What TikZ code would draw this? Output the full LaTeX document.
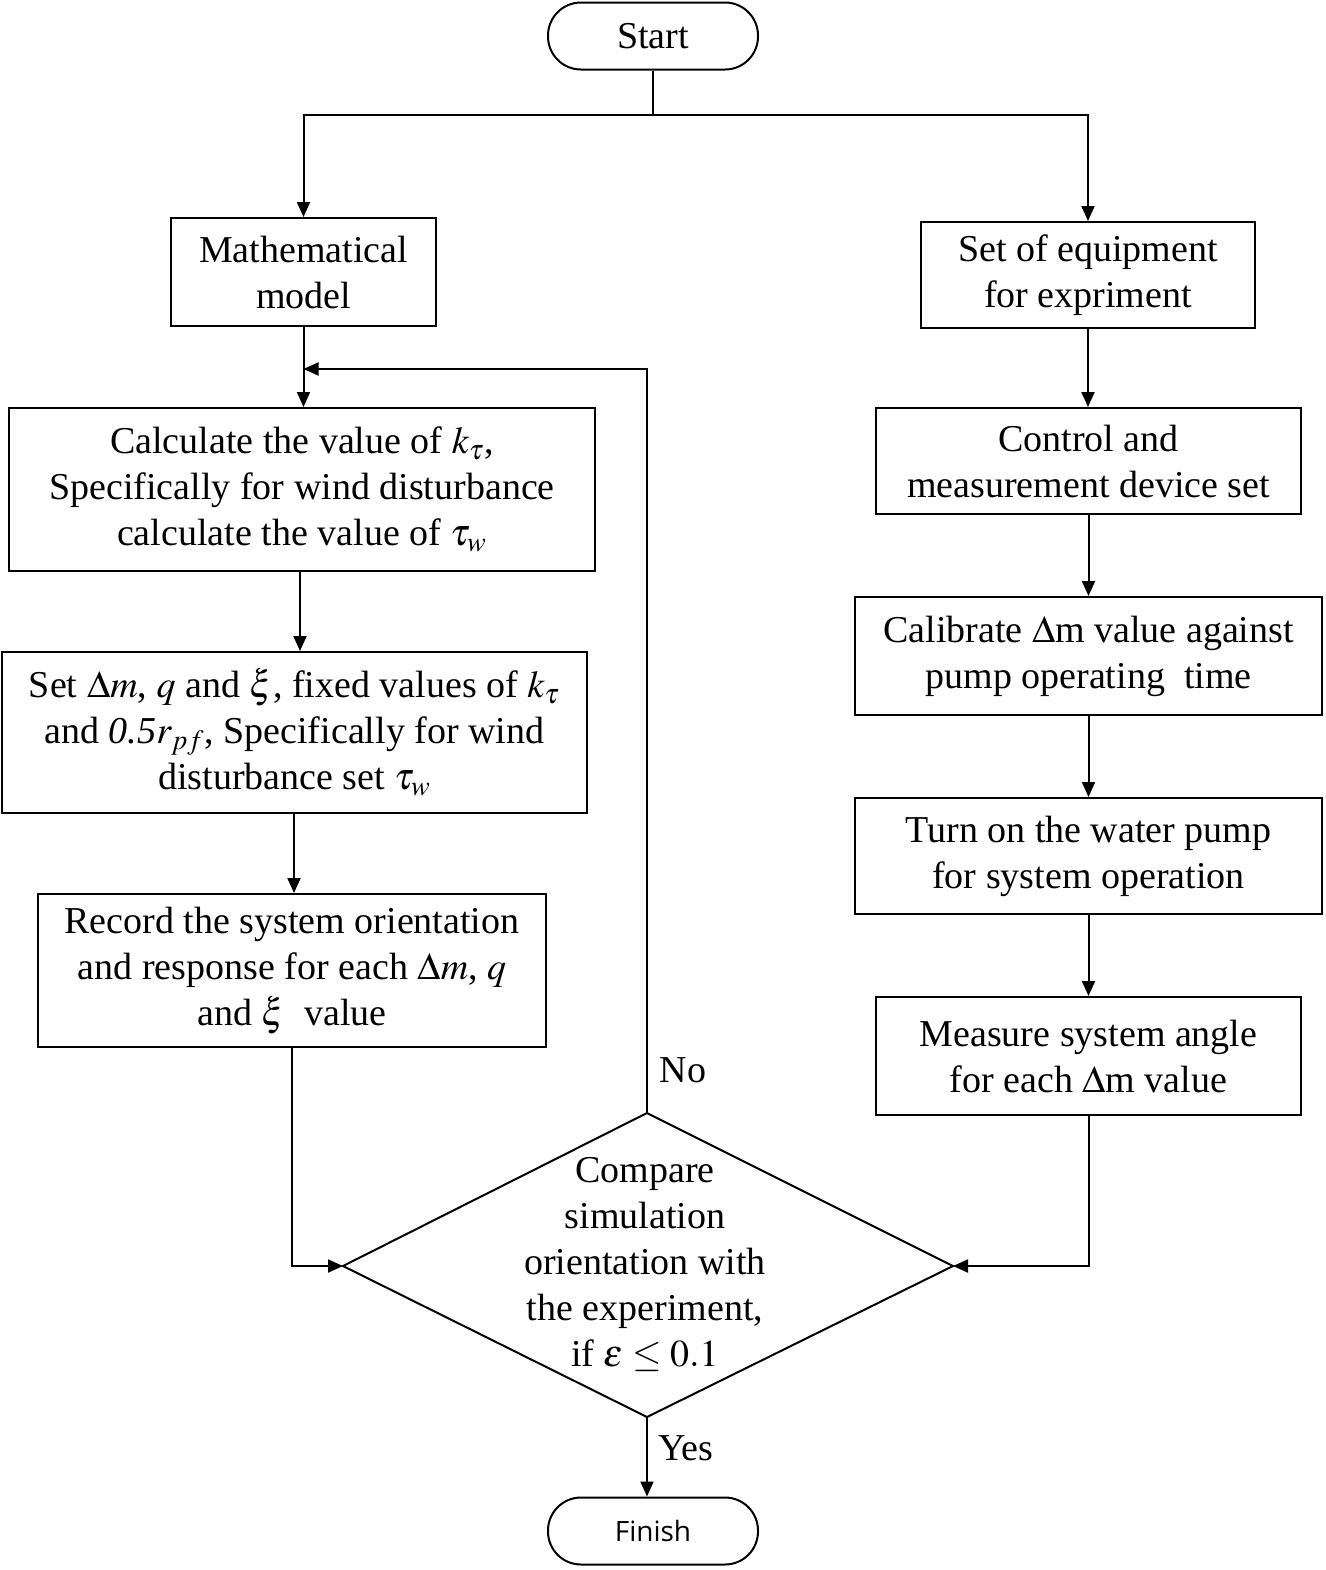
\documentclass[tikz,border=0pt]{standalone}
\usepackage{mathptmx}
\usepackage{fontspec}
\setmainfont{Liberation Serif}
\newfontfamily\finishfont{Open Sans}
\usetikzlibrary{arrows.meta}
\begin{document}
\begin{tikzpicture}[x=0.5pt,y=-0.5pt,
  txt/.style={font=\fontsize{19}{23}\selectfont},
  box/.style={draw, line width=1pt, align=center, inner sep=0pt, txt},
  term/.style={draw, line width=1pt, rounded corners=16.5pt, minimum width=105pt, minimum height=33.5pt, inner sep=0pt},
  arr/.style={line width=1pt, -{Triangle[length=7.5pt,width=6.5pt]}},
  ln/.style={line width=1pt}]
\useasboundingbox (0,0) rectangle (1326,1570);
% terminals
\node[term, txt] (start) at (653,36) {Start};
\node[term, font=\finishfont\fontsize{14}{16}\selectfont] (fin) at (653,1531) {Finish};
% left column
\node[box, minimum width=132.5pt, minimum height=54pt] (math) at (303.5,272) {Mathematical\\model};
\node[box, minimum width=293pt, minimum height=81.5pt] (calc) at (302,489.5) {Calculate the value of $k_\tau$,\\Specifically for wind disturbance\\calculate the value of $\tau_w$};
\node[box, minimum width=292.5pt, minimum height=80.5pt] (set) at (294.5,732.5) {Set $\Delta m$, $q$ and $\xi$, fixed values of $k_\tau$\\and \textit{0.5}$r_{pf}$, Specifically for wind\\disturbance set $\tau_w$};
\node[box, minimum width=254pt, minimum height=76.5pt] (rec) at (292,970.5) {Record the system orientation\\and response for each $\Delta m$, $q$\\and $\xi$~ value};
% right column
\node[box, minimum width=167pt, minimum height=53pt] (equip) at (1088,275) {Set of equipment\\for expriment};
\node[box, minimum width=212.5pt, minimum height=53pt] (ctrl) at (1088.5,461) {Control and\\measurement device set};
\node[box, minimum width=233.5pt, minimum height=59pt] (calib) at (1088.5,656) {Calibrate $\Delta$m value against\\pump operating ~time};
\node[box, minimum width=233.5pt, minimum height=58pt] (turn) at (1088.5,856) {Turn on the water pump\\for system operation};
\node[box, minimum width=212.5pt, minimum height=59pt] (meas) at (1088.5,1056) {Measure system angle\\for each $\Delta$m value};
% decision diamond
\coordinate (dT) at (647,1113);
\coordinate (dB) at (647,1417);
\coordinate (dL) at (343,1266);
\coordinate (dR) at (953,1266);
\draw[ln] (dT) -- (dR) -- (dB) -- (dL) -- cycle;
\node[txt, align=center, inner sep=0pt] (dec) at (645,1264) {Compare\\simulation\\orientation with\\the experiment,\\if $\varepsilon \le 0.1$};
% labels
\node[txt, inner sep=0pt] (no) at (683,1070) {No};
\node[txt, inner sep=0pt] (yes) at (686,1448) {Yes};
% connectors
\coordinate (split) at (653,115);
\coordinate (loop) at (303.5,369);
\draw[ln] (start.south) -- (split);
\draw[arr] (split) -| (math.north);
\draw[arr] (split) -| (equip.north);
\draw[arr] (math.south) -- (math.south |- calc.north);
\draw[arr] (dT) |- (loop);
\draw[arr] (calc.south -| 300,0) -- (set.north -| 300,0);
\draw[arr] (set.south -| 294,0) -- (rec.north -| 294,0);
\draw[arr] (rec.south) |- (dL);
\draw[arr] (equip.south) -- (equip.south |- ctrl.north);
\draw[arr] (ctrl.south) -- (calib.north);
\draw[arr] (calib.south) -- (turn.north);
\draw[arr] (turn.south) -- (meas.north);
\draw[arr] (meas.south) |- (dR);
\draw[arr] (dB) -- (dB |- fin.north);
\end{tikzpicture}
\end{document}
